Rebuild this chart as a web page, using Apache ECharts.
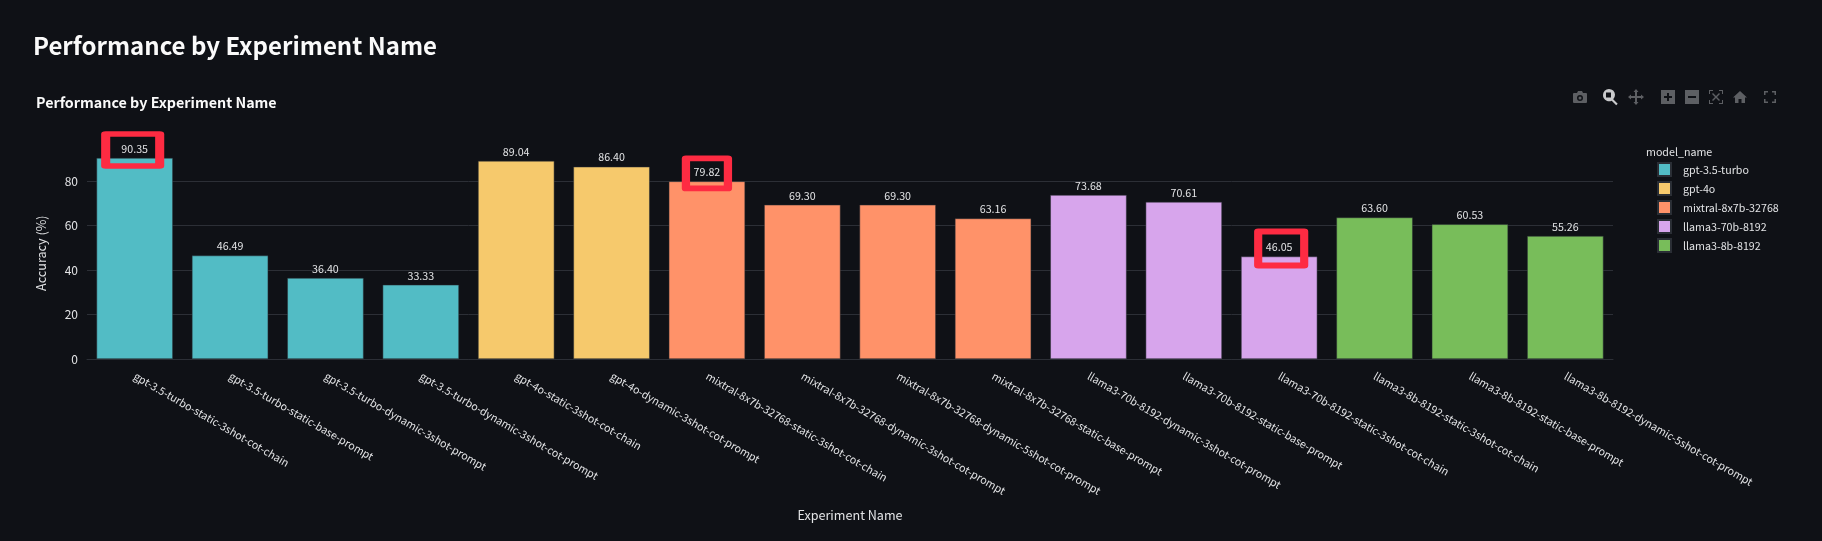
<!DOCTYPE html>
<html>
<head>
<meta charset="utf-8" />
<title>Performance by Experiment Name</title>
<script src="https://cdn.jsdelivr.net/npm/echarts@6/dist/echarts.min.js"></script>
<style>
  html, body { margin: 0; padding: 0; background: #0f1116; }
  #chart { width: 1822px; height: 541px; }
</style>
</head>
<body>
<div id="chart"></div>
<script>
  var experiments = [
    'gpt-3.5-turbo-static-3shot-cot-chain',
    'gpt-3.5-turbo-static-base-prompt',
    'gpt-3.5-turbo-dynamic-3shot-prompt',
    'gpt-3.5-turbo-dynamic-3shot-cot-prompt',
    'gpt-4o-static-3shot-cot-chain',
    'gpt-4o-dynamic-3shot-cot-prompt',
    'mixtral-8x7b-32768-static-3shot-cot-chain',
    'mixtral-8x7b-32768-dynamic-3shot-cot-prompt',
    'mixtral-8x7b-32768-dynamic-5shot-cot-prompt',
    'mixtral-8x7b-32768-static-base-prompt',
    'llama3-70b-8192-dynamic-3shot-cot-prompt',
    'llama3-70b-8192-static-base-prompt',
    'llama3-70b-8192-static-3shot-cot-chain',
    'llama3-8b-8192-static-3shot-cot-chain',
    'llama3-8b-8192-static-base-prompt',
    'llama3-8b-8192-dynamic-5shot-cot-prompt'
  ];
  var accuracy = [90.35, 46.49, 36.40, 33.33, 89.04, 86.40, 79.82, 69.30, 69.30, 63.16, 73.68, 70.61, 46.05, 63.60, 60.53, 55.26];
  var barModels = [0, 0, 0, 0, 1, 1, 2, 2, 2, 2, 3, 3, 3, 4, 4, 4];
  var models = ['gpt-3.5-turbo', 'gpt-4o', 'mixtral-8x7b-32768', 'llama3-70b-8192', 'llama3-8b-8192'];
  var colors = ['#52bcc5', '#f6c96c', '#ff9269', '#d7a5ec', '#78bd5a'];
  var yMax = 95.1;

  // hand drawn red boxes in the original screenshot: bar index, size, offset from bar top
  var redBoxes = [
    { bar: 0, size: [54, 32], offset: [-2, -8] },
    { bar: 6, size: [42, 30], offset: [0, -8] },
    { bar: 12, size: [46, 34], offset: [2, -8] }
  ];

  var font = '"Noto Sans CJK SC", "Noto Sans", sans-serif';
  var textColor = '#e3e4e6';
  var iconColor = '#5d5f63';
  var labelSize = 10.7;

  var series = models.map(function(name, m) {
    return {
      name: name,
      type: 'bar',
      stack: 'all',
      barCategoryGap: '20%',
      itemStyle: { color: colors[m], borderColor: '#2a2e35', borderWidth: 0.5 },
      label: {
        show: true,
        position: 'top',
        distance: 4,
        color: textColor,
        fontFamily: font,
        fontSize: labelSize,
        formatter: function(p) { return p.value.toFixed(2); }
      },
      data: accuracy.map(function(v, i) {
        return barModels[i] === m ? v : null;
      }),
      markPoint: {
        silent: true,
        animation: false,
        label: { show: false },
        itemStyle: { color: 'rgba(0,0,0,0)', borderColor: '#fe2b42', borderWidth: 7, borderJoin: 'round' },
        data: redBoxes.filter(function(b) {
          return barModels[b.bar] === m;
        }).map(function(b) {
          return {
            coord: [b.bar, accuracy[b.bar]],
            symbol: 'rect',
            symbolSize: b.size,
            symbolOffset: b.offset
          };
        })
      }
    };
  });

  // plotly style modebar, only decoration
  var iconIndex = 0;
  function icon(d, x, y, color) {
    var shapeName = 'modebarIcon' + (iconIndex++);
    echarts.graphic.registerShape(shapeName, echarts.graphic.extendPath(d, {}));
    return {
      type: shapeName,
      silent: true,
      x: x - 8,
      y: y - 8,
      style: { fill: color || iconColor }
    };
  }
  var modebar = [
    icon('M2 4h3l1-2h4l1 2h3a1 1 0 0 1 1 1v8a1 1 0 0 1-1 1H2a1 1 0 0 1-1-1V5a1 1 0 0 1 1-1zM8 6a3 3 0 1 0 0 6a3 3 0 0 0 0-6zM8 7.5a1.5 1.5 0 1 1 0 3a1.5 1.5 0 0 1 0-3z', 1580, 97),
    icon('M1 6a6 6 0 1 1 10.2 4.2l4.5 4.5l-1.500 1.500l-4.500-4.500A6 6 0 0 1 1 6zM4 3.500v5h5v-5z', 1610, 97, '#c9cacc'),
    icon('M8 0l2.500 3H9v4h4V5.500l3 2.500l-3 2.500V9H9v4h1.500L8 16l-2.500-3H7V9H3v1.500L0 8l3-2.500V7h4V3H5.500z', 1636, 97),
    icon('M1 1h14v14H1zM7 4v3H4v2h3v3h2V9h3V7H9V4z', 1668, 97),
    icon('M1 1h14v14H1zM4 7v2h8V7z', 1692, 97),
    icon('M1 1h4v1H2v3H1zM11 1h4v4h-1V2h-3zM1 11h1v3h3v1H1zM14 11h1v4h-4v-1h3zM5 4l3 3l3-3l1 1l-3 3l3 3l-1 1l-3-3l-3 3l-1-1l3-3l-3-3z', 1716, 97),
    icon('M8 2l7 6.500h-2V14h-3.500v-4h-3v4H3V8.500H1z', 1740, 97),
    icon('M2 2h4v1.500H3.500V6H2zM10 2h4v4h-1.500V3.500H10zM2 10h1.500v2.500H6V14H2zM12.500 10H14v4h-4v-1.500h2.500z', 1770, 97)
  ];

  var option = {
    backgroundColor: '#0f1116',
    animation: false,
    textStyle: { fontFamily: font },
    title: [
      { text: 'Performance by Experiment Name', left: 33, top: 34, padding: 0, textStyle: { color: '#fafafa', fontFamily: font, fontSize: 24, fontWeight: 600 } },
      { text: 'Performance by Experiment Name', left: 36, top: 95, padding: 0, textStyle: { color: '#fafafa', fontFamily: font, fontSize: 14.3, fontWeight: 700 } },
      { text: 'model_name', left: 1646, top: 147, padding: 0, textStyle: { color: textColor, fontFamily: font, fontSize: labelSize, fontWeight: 400 } }
    ],
    legend: {
      orient: 'vertical',
      left: 1657,
      top: 162,
      padding: 0,
      icon: 'rect',
      itemWidth: 13,
      itemHeight: 13,
      itemGap: 4,
      selectedMode: false,
      data: models,
      textStyle: { color: textColor, fontFamily: font, fontSize: labelSize, padding: [0, 0, 0, 7] }
    },
    grid: { left: 87, right: 209, top: 147.4, height: 211.6, containLabel: false },
    xAxis: {
      type: 'category',
      data: experiments,
      name: 'Experiment Name',
      nameLocation: 'middle',
      nameGap: 150,
      nameTextStyle: { color: textColor, fontFamily: font, fontSize: 12.6 },
      axisTick: { show: false },
      axisLine: { lineStyle: { color: '#2c2f36' } },
      axisLabel: {
        interval: 0,
        rotate: -30,
        margin: 16,
        color: textColor,
        fontFamily: font,
        fontSize: labelSize
      }
    },
    yAxis: {
      type: 'value',
      min: 0,
      max: yMax,
      interval: 20,
      name: 'Accuracy (%)',
      nameLocation: 'middle',
      nameGap: 40,
      nameTextStyle: { color: textColor, fontFamily: font, fontSize: 12.6 },
      axisLine: { show: false },
      axisTick: { show: false },
      axisLabel: { showMaxLabel: false, margin: 9, color: textColor, fontFamily: font, fontSize: 12 },
      splitLine: { showMaxLine: false, lineStyle: { color: '#2c2f36' } }
    },
    graphic: modebar,
    series: series
  };

  var myChart = echarts.init(document.getElementById('chart'));
  myChart.setOption(option);
</script>
</body>
</html>
